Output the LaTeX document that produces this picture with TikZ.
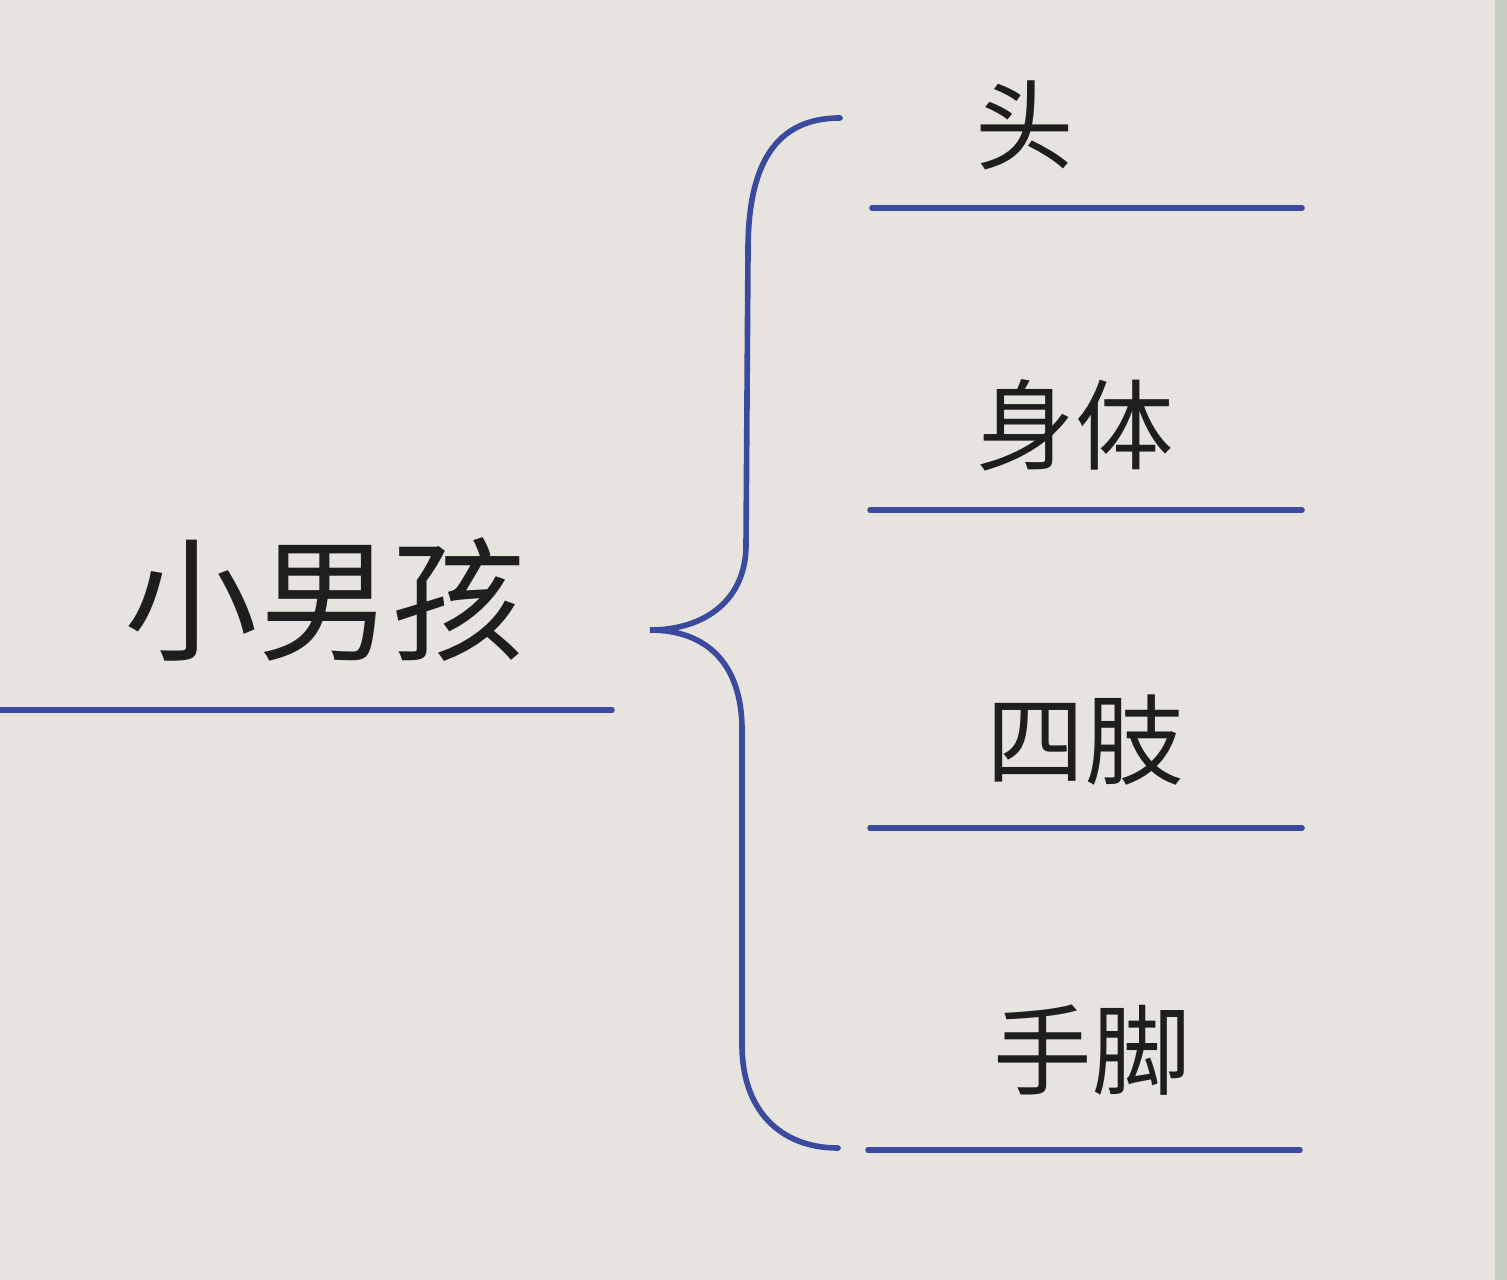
\documentclass[tikz,border=0pt]{standalone}
\usepackage{fontspec}
\newfontfamily\cjk{Noto Sans CJK SC}
\usetikzlibrary{positioning}

\definecolor{paper}{HTML}{E7E4DF}
\definecolor{edge}{HTML}{C9CDC1}
\definecolor{inkblue}{HTML}{3C4A9E}
\definecolor{inktext}{HTML}{1E1E1E}

\tikzset{
  rule/.style={draw=inkblue, line width=1.6pt, line cap=round},
  root/.style={font=\cjk\fontsize{38}{40}\selectfont, text=inktext, inner sep=0pt},
  part/.style={font=\cjk\fontsize{28}{30}\selectfont, text=inktext, inner sep=0pt}
}

\begin{document}
\begin{tikzpicture}[x=0.01cm, y=-0.01cm]
\fill[paper] (0,0) rectangle (1507,1280);
\fill[edge] (1495,0) rectangle (1507,1280);
\useasboundingbox (0,0) rectangle (1507,1280);

% root
\node[root] (boy) at (325,600) {小男孩};
\coordinate (boyL) at (0,710);
\coordinate (boyR) at (612,710);
\draw[rule] (boyL) -- (boyR);

% parts
\node[part] (head) at (1025,125) {头};
\node[part] (body) at (1075,425) {身体};
\node[part] (limbs) at (1085,740) {四肢};
\node[part] (hands) at (1092,1050) {手脚};

\coordinate (headL) at (872,208);  \coordinate (headR) at (1302,208);
\coordinate (bodyL) at (870,510);  \coordinate (bodyR) at (1302,510);
\coordinate (limbsL) at (870,828); \coordinate (limbsR) at (1302,828);
\coordinate (handsL) at (868,1150); \coordinate (handsR) at (1300,1150);
\draw[rule] (headL) -- (headR);
\draw[rule] (bodyL) -- (bodyR);
\draw[rule] (limbsL) -- (limbsR);
\draw[rule] (handsL) -- (handsR);

% brace
\coordinate (braceT) at (840,118);
\coordinate (braceM) at (650,630);
\coordinate (braceB) at (838,1148);
\draw[rule] (braceT) .. controls (775,118) and (748,165) .. (748,250)
  -- (746,545) .. controls (746,600) and (705,630) .. (braceM)
  .. controls (705,630) and (742,662) .. (742,730)
  -- (742,1045) .. controls (742,1110) and (780,1148) .. (braceB);
\end{tikzpicture}
\end{document}
